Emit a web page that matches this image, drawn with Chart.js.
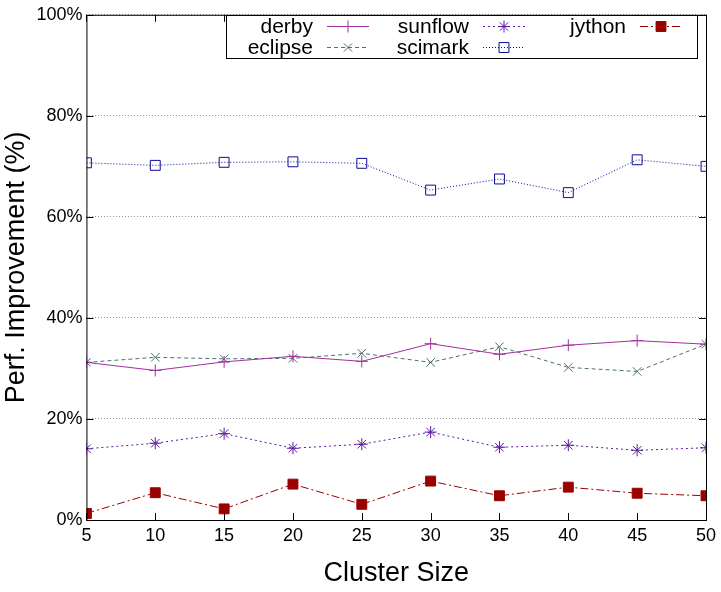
<!DOCTYPE html>
<html>
<head>
<meta charset="utf-8">
<script src="https://cdn.jsdelivr.net/npm/chart.js@4"></script>
<style>
  html, body { margin: 0; padding: 0; background: #fff; }
  #wrap { width: 721px; height: 592px; }
</style>
</head>
<body>
<div id="wrap"><canvas id="chart"></canvas></div>
<script>
// Cluster sizes and performance improvement (%)
const clusterSizes = [5, 10, 15, 20, 25, 30, 35, 40, 45, 50];
const derby   = [31.2, 29.6, 31.3, 32.4, 31.4, 34.9, 32.8, 34.6, 35.5, 34.8];
const eclipse = [31.2, 32.2, 31.9, 32.0, 33.0, 31.2, 34.3, 30.2, 29.4, 34.8];
const sunflow = [14.1, 15.2, 17.1, 14.2, 15.0, 17.4, 14.4, 14.8, 13.8, 14.3];
const scimark = [70.7, 70.2, 70.8, 70.9, 70.6, 65.3, 67.5, 64.8, 71.3, 70.0];
const jython  = [1.3, 5.4, 2.2, 7.1, 3.1, 7.7, 4.8, 6.5, 5.3, 4.8];

const FONT = "'Liberation Sans', Arial, sans-serif";
const NONE = "rgba(0,0,0,0)";

function serie(label, values, color, dash, pointStyle, fill, radius) {
  return {
    label,
    data: clusterSizes.map((x, i) => ({ x, y: values[i] })),
    borderColor: color,
    backgroundColor: fill ? color : NONE,
    pointBorderColor: color,
    pointBackgroundColor: fill ? color : NONE,
    borderWidth: 1,
    borderDash: dash,
    pointStyle,
    pointRadius: radius,
    pointBorderWidth: 1,
    tension: 0,
  };
}

const datasets = [
  serie("derby", derby, "#a0309f", [], "cross", false, 6),
  serie("eclipse", eclipse, "#4f7070", [4, 3], "crossRot", false, 6),
  serie("sunflow", sunflow, "#5c1aa0", [2, 3], "star", false, 6),
  serie("scimark", scimark, "#0c0c9a", [1, 2], "rect", false, 7),
  serie("jython", jython, "#990000", [8, 3, 2, 3], "rect", true, 7),
];

// Legend like gnuplot: box, 3 columns, text right-aligned then sample
const gnuLegend = {
  id: "gnuLegend",
  afterDraw(chart) {
    const c = chart.ctx;
    const box = { x: 226, y: 15, w: 471, h: 43 };
    c.save();
    c.strokeStyle = "#000";
    c.lineWidth = 1;
    c.fillStyle = "#fff";
    c.fillRect(box.x, box.y, box.w, box.h);
    c.strokeRect(box.x + 0.5, box.y + 0.5, box.w, box.h);
    const cols = [313, 469, 626];
    const rows = [26, 47];
    const order = [[0, 0, 0], [1, 0, 1], [2, 1, 0], [3, 1, 1], [4, 2, 0]];
    c.font = "21px " + FONT;
    c.textAlign = "right";
    c.textBaseline = "middle";
    order.forEach(([di, col, row]) => {
      const ds = chart.data.datasets[di];
      const tx = cols[col], ty = rows[row];
      c.fillStyle = "#000";
      c.fillText(ds.label, tx, ty + 1);
      c.strokeStyle = ds.borderColor;
      c.setLineDash(ds.borderDash);
      c.beginPath();
      c.moveTo(tx + 14, ty + 0.5);
      c.lineTo(tx + 56, ty + 0.5);
      c.stroke();
      c.setLineDash([]);
      c.fillStyle = ds.pointBackgroundColor;
      c.strokeStyle = ds.pointBorderColor;
      Chart.helpers.drawPoint(c, {
        pointStyle: ds.pointStyle, radius: ds.pointRadius, rotation: 0, borderWidth: 1
      }, tx + 35, ty + 0.5);
    });
    c.restore();
  },
};

// Inward tick marks and frame like gnuplot
const innerTicks = {
  id: "innerTicks",
  afterDatasetsDraw(chart) {
    const { ctx: c, chartArea: a, scales } = chart;
    c.save();
    c.strokeStyle = "#000";
    c.lineWidth = 1;
    c.beginPath();
    clusterSizes.forEach(v => {
      const px = Math.round(scales.x.getPixelForValue(v)) + 0.5;
      c.moveTo(px, a.bottom); c.lineTo(px, a.bottom - 7);
      c.moveTo(px, a.top); c.lineTo(px, a.top + 7);
    });
    for (let v = 0; v <= 100; v += 20) {
      const py = Math.round(scales.y.getPixelForValue(v)) + 0.5;
      c.moveTo(a.left, py); c.lineTo(a.left + 7, py);
      c.moveTo(a.right, py); c.lineTo(a.right - 7, py);
    }
    c.stroke();
    c.strokeRect(a.left + 0.5, a.top + 0.5, a.right - a.left, a.bottom - a.top);
    c.restore();
  },
};

new Chart(document.getElementById("chart"), {
  type: "line",
  data: { datasets },
  options: {
    responsive: true,
    maintainAspectRatio: false,
    animation: false,
    layout: { padding: { top: 6, right: 5, left: 0, bottom: 0 } },
    plugins: { legend: { display: false }, tooltip: { enabled: false } },
    scales: {
      x: {
        type: "linear", min: 5, max: 50,
        ticks: { stepSize: 5, color: "#000", font: { family: FONT, size: 18 }, padding: 5 },
        grid: { display: false, drawTicks: false },
        border: { display: false },
        title: { display: true, text: "Cluster Size", color: "#000", font: { family: FONT, size: 27 }, padding: { top: 6, bottom: 2 } },
      },
      y: {
        min: 0, max: 100,
        ticks: { stepSize: 20, color: "#000", font: { family: FONT, size: 18 }, padding: 4, callback: v => v + "%" },
        grid: { color: "#999", borderDash: [1, 2], drawTicks: false },
        border: { display: false, dash: [1, 2] },
        title: { display: true, text: "Perf. Improvement (%)", color: "#000", font: { family: FONT, size: 27 }, padding: { top: 0, bottom: 0 } },
      },
    },
  },
  plugins: [gnuLegend, innerTicks],
});
</script>
</body>
</html>
